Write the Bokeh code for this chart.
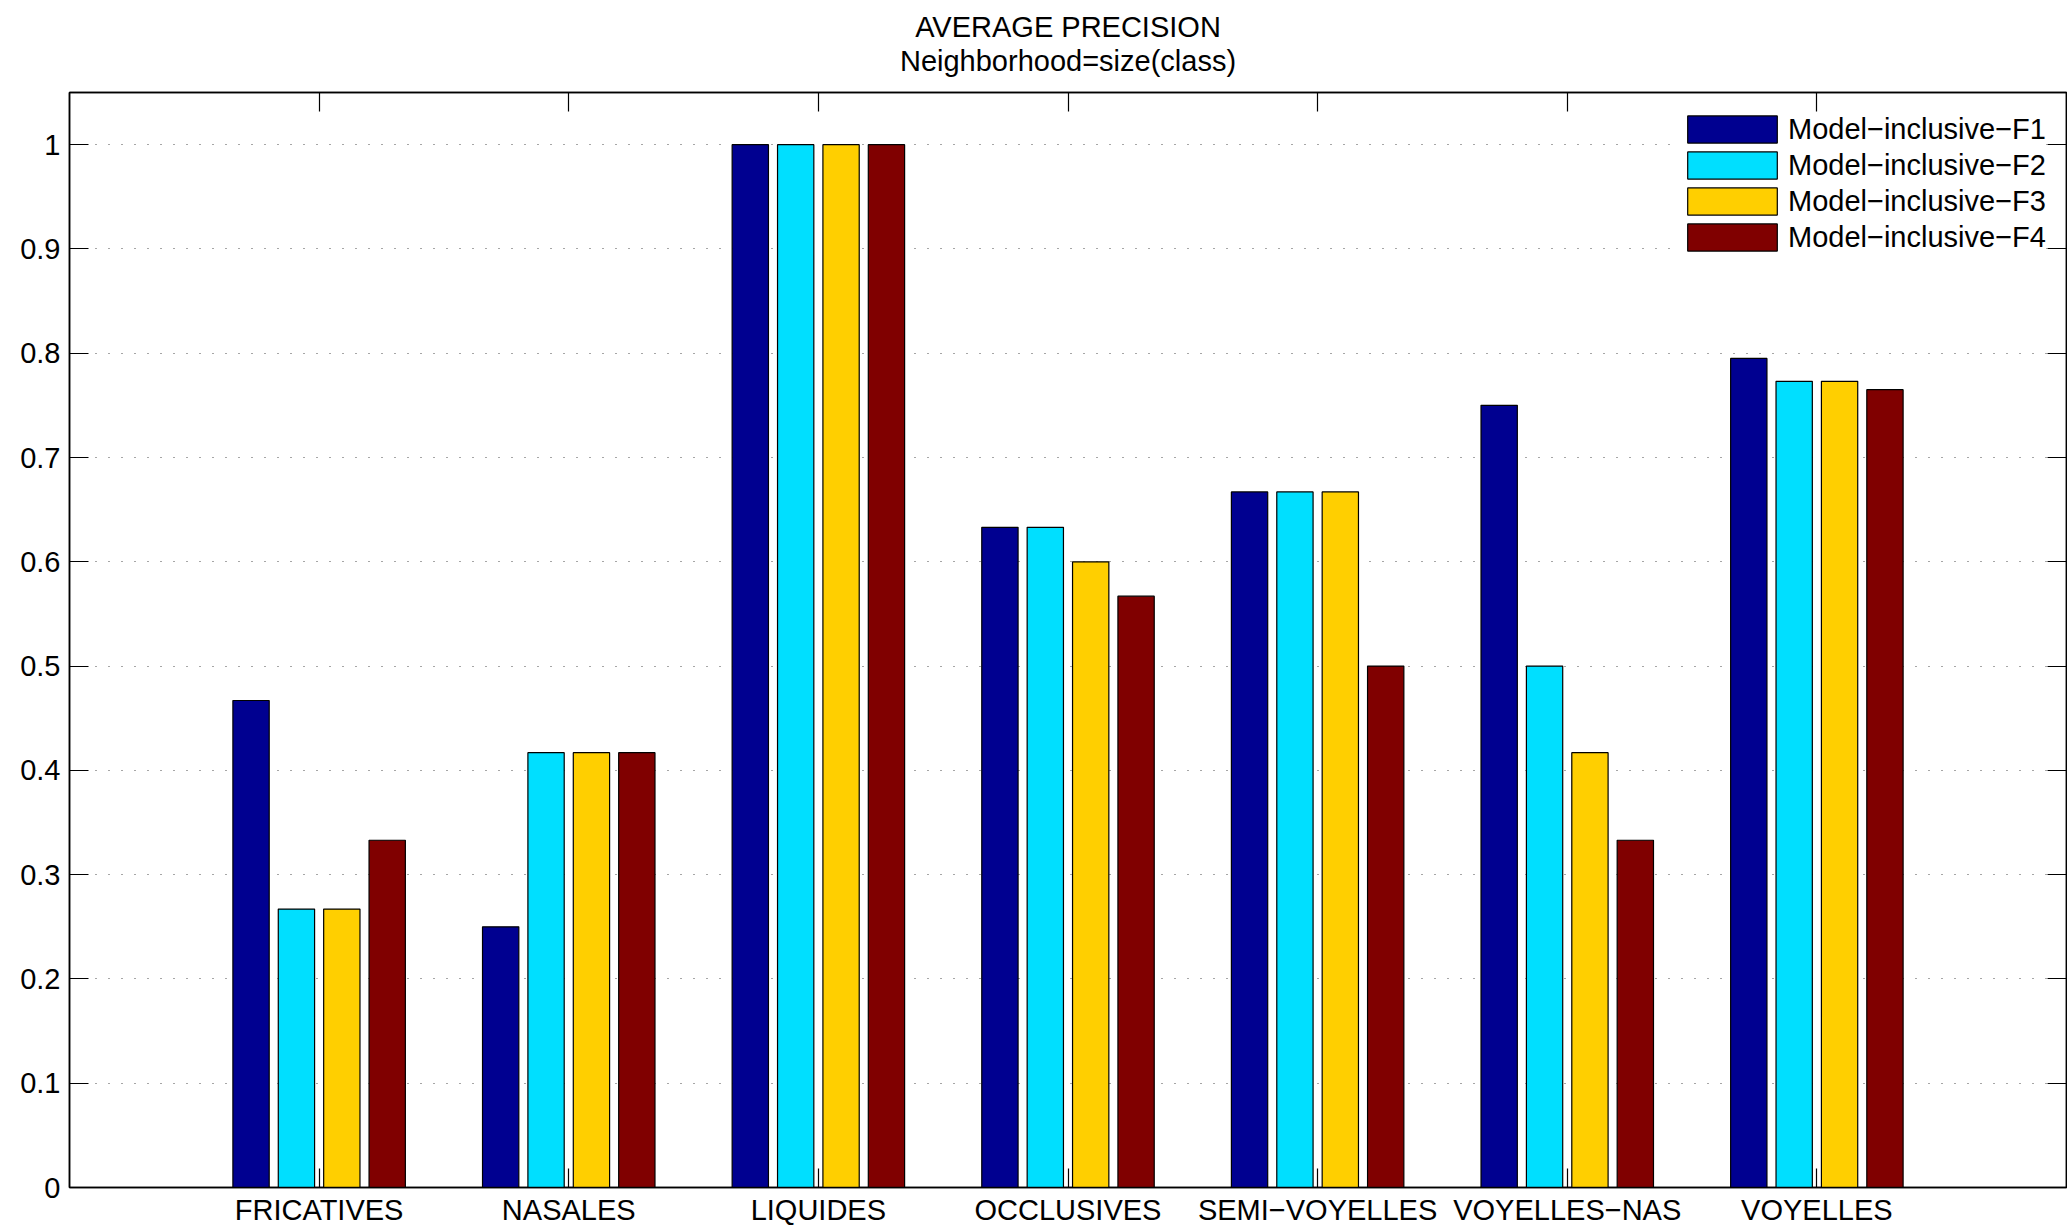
from bokeh.plotting import figure
from bokeh.models import (Range1d, FixedTicker, LinearAxis, Title, Legend,
                          LegendItem, ColumnDataSource)
from bokeh.embed import file_html
from bokeh.resources import INLINE

# ---------------- data ----------------
categories = ["FRICATIVES", "NASALES", "LIQUIDES", "OCCLUSIVES",
              "SEMI−VOYELLES", "VOYELLES−NAS", "VOYELLES"]
series_names = ["Model−inclusive−F1", "Model−inclusive−F2",
                "Model−inclusive−F3", "Model−inclusive−F4"]
f1 = [0.467, 0.250, 1.000, 0.633, 0.667, 0.750, 0.795]
f2 = [0.267, 0.417, 1.000, 0.633, 0.667, 0.500, 0.773]
f3 = [0.267, 0.417, 1.000, 0.600, 0.667, 0.417, 0.773]
f4 = [0.333, 0.417, 1.000, 0.567, 0.500, 0.333, 0.765]
series = [f1, f2, f3, f4]
colors = ["#000090", "#00DFFF", "#FFCF00", "#800000"]
yticks = [0, 0.1, 0.2, 0.3, 0.4, 0.5, 0.6, 0.7, 0.8, 0.9, 1]
ytick_labels = ["0", "0.1", "0.2", "0.3", "0.4", "0.5", "0.6", "0.7", "0.8", "0.9", "1"]
title_main = "AVERAGE PRECISION"
title_sub = "Neighborhood=size(class)"

FONT = "Liberation Sans"
FS = "29px"

W, H = 2067, 1228
BL, BR, BT, BB = 69, 1, 92, 40
p = figure(width=W, height=H, output_backend="svg", toolbar_location=None,
           title=None, x_range=Range1d(0, len(categories) + 1),
           y_range=Range1d(0, 1.05),
           min_border_left=BL, min_border_right=BR, min_border_top=BT,
           min_border_bottom=BB)
p.background_fill_color = "white"
p.border_fill_color = "white"
p.outline_line_color = "black"
p.outline_line_width = 1.5

# grouped bar layout (MATLAB style)
n = len(series)
group_w = min(0.8, n / (n + 1.5))
step = group_w / n
bar_w = step * 0.8
cat_pos = list(range(1, len(categories) + 1))

renderers = []
for i, (vals, col) in enumerate(zip(series, colors)):
    off = (i - (n - 1) / 2) * step
    src = ColumnDataSource(dict(x=[c + off for c in cat_pos], top=vals))
    r = p.vbar(x="x", top="top", width=bar_w, bottom=0, source=src,
               fill_color=col, line_color="black", line_width=1.2)
    renderers.append(r)

# axes
xt = FixedTicker(ticks=cat_pos)
yt = FixedTicker(ticks=yticks)

def style_axis(ax, labels=True):
    ax.axis_line_color = "black"
    ax.axis_line_width = 1.5
    ax.major_tick_in = 19
    ax.major_tick_out = 0
    ax.major_tick_line_color = "black"
    ax.major_tick_line_width = 1.2
    ax.minor_tick_line_color = None
    ax.major_label_text_font = FONT
    ax.major_label_text_font_size = FS
    if labels:
        ax.major_label_text_color = "black"
    else:
        ax.major_label_text_color = None
        ax.major_label_standoff = 0

xa = p.xaxis[0]
xa.ticker = xt
xa.major_label_overrides = {c: lab for c, lab in zip(cat_pos, categories)}
style_axis(xa)
xa.major_label_standoff = 6

ya = p.yaxis[0]
ya.ticker = yt
ya.major_label_overrides = {t: lab for t, lab in zip(yticks, ytick_labels)}
style_axis(ya)
ya.major_label_standoff = 9

top_ax = LinearAxis(ticker=xt)
style_axis(top_ax, labels=False)
p.add_layout(top_ax, "above")
right_ax = LinearAxis(ticker=yt)
style_axis(right_ax, labels=False)
p.add_layout(right_ax, "right")

# grid
p.xgrid.grid_line_color = None
p.ygrid.ticker = yt
p.ygrid.grid_line_color = "black"
p.ygrid.grid_line_alpha = 0.7
p.ygrid.grid_line_width = 1
p.ygrid.grid_line_dash = "1 12"

# titles
p.add_layout(Title(text=title_sub, align="center", text_font=FONT,
                   text_font_size=FS, text_font_style="normal",
                   text_color="black", standoff=32), "above")
p.add_layout(Title(text=title_main, align="center", text_font=FONT,
                   text_font_size=FS, text_font_style="normal",
                   text_color="black", standoff=-32), "above")

# legend (bottom-left corner given in frame screen units)
frame_h = H - BT - BB
leg_left = 1676 - BL
leg_bottom = frame_h - (255 - BT)
items = [LegendItem(label=nm, renderers=[r]) for nm, r in zip(series_names, renderers)]
legend = Legend(items=items, location=(leg_left, leg_bottom), glyph_width=112,
                glyph_height=34, label_text_font=FONT, label_text_font_size=FS,
                label_text_color="black",
                label_standoff=0, padding=8, margin=0, spacing=2,
                border_line_color=None, background_fill_color="white",
                background_fill_alpha=1.0)
p.add_layout(legend)

open("out.html", "w").write(file_html(p, INLINE))
